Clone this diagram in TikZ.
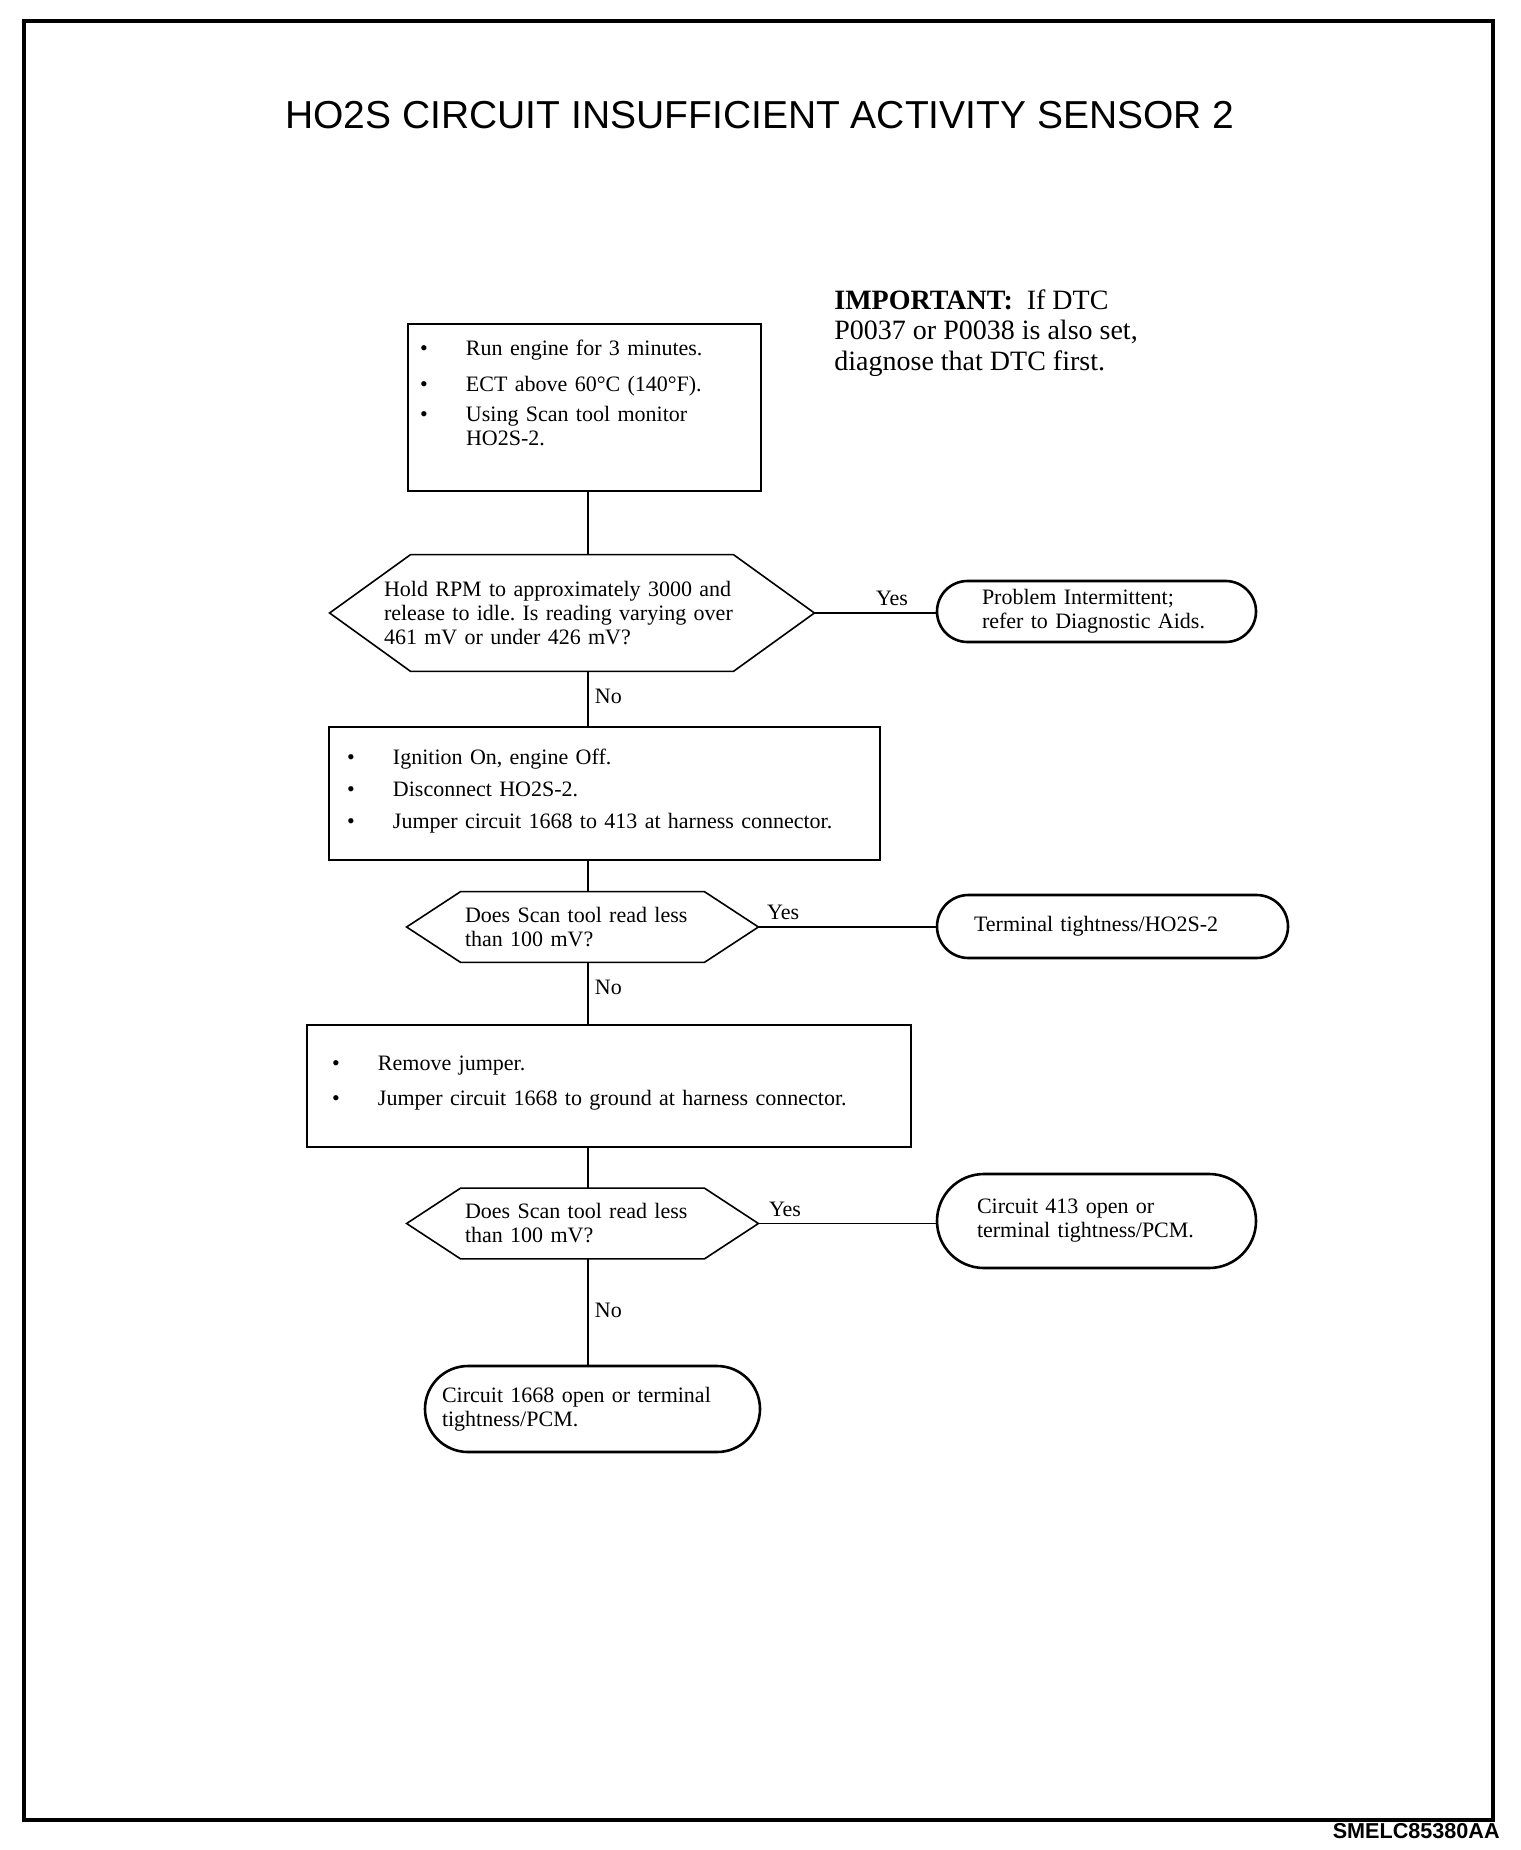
\documentclass[tikz,border=0pt]{standalone}
\usepackage{fontspec}
\setmainfont{Liberation Serif}
\newfontfamily\headfont{Liberation Sans}
\frenchspacing
\newcommand{\bitem}[1]{\makebox[23pt][l]{\textbullet}#1}
\newcommand{\hexa}[2]{\draw[line width=0.8pt] (#1.west) -- ([xshift=#2]#1.north west)
  -- ([xshift=-#2]#1.north east) -- (#1.east) -- ([xshift=-#2]#1.south east)
  -- ([xshift=#2]#1.south west) -- cycle;}

\begin{document}
\begin{tikzpicture}[x=0.5pt, y=-0.5pt,
    every node/.style={font=\fontsize{11}{12}\selectfont},
    stepbox/.style={draw, line width=1pt, align=left, inner ysep=0pt, anchor=north west},
    askbox/.style={align=left, inner sep=0pt},
    endbox/.style={draw, line width=1.3pt, align=left, inner sep=0pt},
    link/.style={line width=0.9pt},
    tag/.style={inner sep=3pt}]
    \useasboundingbox (0,0) rectangle (1520,1850);
    \draw[line width=1.6pt] (24,21) rectangle (1493,1820);

    \node[font=\headfont\fontsize{19.5}{23}\selectfont] (title) at (760,115)
        {HO2S CIRCUIT INSUFFICIENT ACTIVITY SENSOR 2};
    \node[anchor=north west, align=left, inner sep=0pt,
        font=\fontsize{14}{15.3}\selectfont] (note) at (834,289)
        {\textbf{IMPORTANT:}\ \ If DTC\\P0037 or P0038 is also set,\\diagnose that DTC first.};
    \node[anchor=base east, inner sep=0pt, font=\headfont\bfseries\fontsize{10.8}{12}\selectfont]
        (code) at (1500,1838) {SMELC85380AA};

    % steps
    \node[stepbox, text width=164.5pt, inner xsep=6pt, text height=16pt, text depth=67.5pt]
        (box1) at (407,323)
        {\bitem{Run engine for 3 minutes.}\\[5.8pt]
         \bitem{ECT above 60°C (140°F).}\\[2.8pt]
         \bitem{Using Scan tool monitor}\\
         \hspace*{23pt}HO2S-2.};
    \node[askbox, minimum width=242pt, minimum height=58pt, text width=188pt]
        (hex1) at (572,613)
        {Hold RPM to approximately 3000 and\\release to idle. Is reading varying over\\461 mV or under 426 mV?};
    \node[endbox, minimum width=159.5pt, minimum height=30.5pt, rounded corners=15.25pt,
        text width=114.5pt] (term1) at (1096.5,611.5)
        {Problem Intermittent;\\refer to Diagnostic Aids.};

    \node[stepbox, text width=257.5pt, inner xsep=9pt, text height=18.5pt, text depth=48pt]
        (box2) at (328,726)
        {\bitem{Ignition On, engine Off.}\\[4pt]
         \bitem{Disconnect HO2S-2.}\\[4pt]
         \bitem{Jumper circuit 1668 to 413 at harness connector.}};
    \node[askbox, minimum width=175.5pt, minimum height=35pt, text width=117.5pt]
        (hex2) at (582.5,927)
        {Does Scan tool read less\\than 100 mV?};
    \node[endbox, minimum width=175.5pt, minimum height=31.5pt, rounded corners=15.75pt,
        text width=138.5pt] (term2) at (1112.5,926.5)
        {Terminal tightness/HO2S-2};

    \node[stepbox, text width=277pt, inner xsep=12.5pt, text height=22.5pt, text depth=38.5pt]
        (box3) at (306,1024)
        {\bitem{Remove jumper.}\\[5.5pt]
         \bitem{Jumper circuit 1668 to ground at harness connector.}};
    \node[askbox, minimum width=175.5pt, minimum height=35pt, text width=117.5pt]
        (hex3) at (582.5,1223.5)
        {Does Scan tool read less\\than 100 mV?};
    \node[endbox, minimum width=159.5pt, minimum height=47pt, rounded corners=23.5pt,
        text width=119.5pt] (term3) at (1096.5,1221)
        {Circuit 413 open or\\terminal tightness/PCM.};
    \node[endbox, minimum width=167.5pt, minimum height=43pt, rounded corners=21.5pt,
        text width=150.5pt] (term4) at (592.5,1409)
        {Circuit 1668 open or terminal\\tightness/PCM.};

    \hexa{hex1}{40.5pt}
    \hexa{hex2}{27pt}
    \hexa{hex3}{27pt}

    % connectors
    \coordinate (spine) at (588,0);
    \draw[link] (box1.south -| spine) -- (hex1.north -| spine);
    \draw[link] (hex1.south -| spine) -- node[tag, right, pos=0.45] (no1) {No} (box2.north -| spine);
    \draw[link] (box2.south -| spine) -- (hex2.north -| spine);
    \draw[link] (hex2.south -| spine) -- node[tag, right, pos=0.4] (no2) {No} (box3.north -| spine);
    \draw[link] (box3.south -| spine) -- (hex3.north -| spine);
    \draw[link] (hex3.south -| spine) -- node[tag, right, pos=0.49] (no3) {No} (term4.north -| spine);

    \draw[link] (hex1.east) -- node[tag, above, pos=0.64] (yes1) {Yes} (hex1.east -| term1.west);
    \draw[link] (hex2.east) -- node[tag, above, pos=0.14] (yes2) {Yes} (hex2.east -| term2.west);
    \draw[link] (hex3.east) -- node[tag, above, pos=0.15] (yes3) {Yes} (hex3.east -| term3.west);
\end{tikzpicture}
\end{document}
